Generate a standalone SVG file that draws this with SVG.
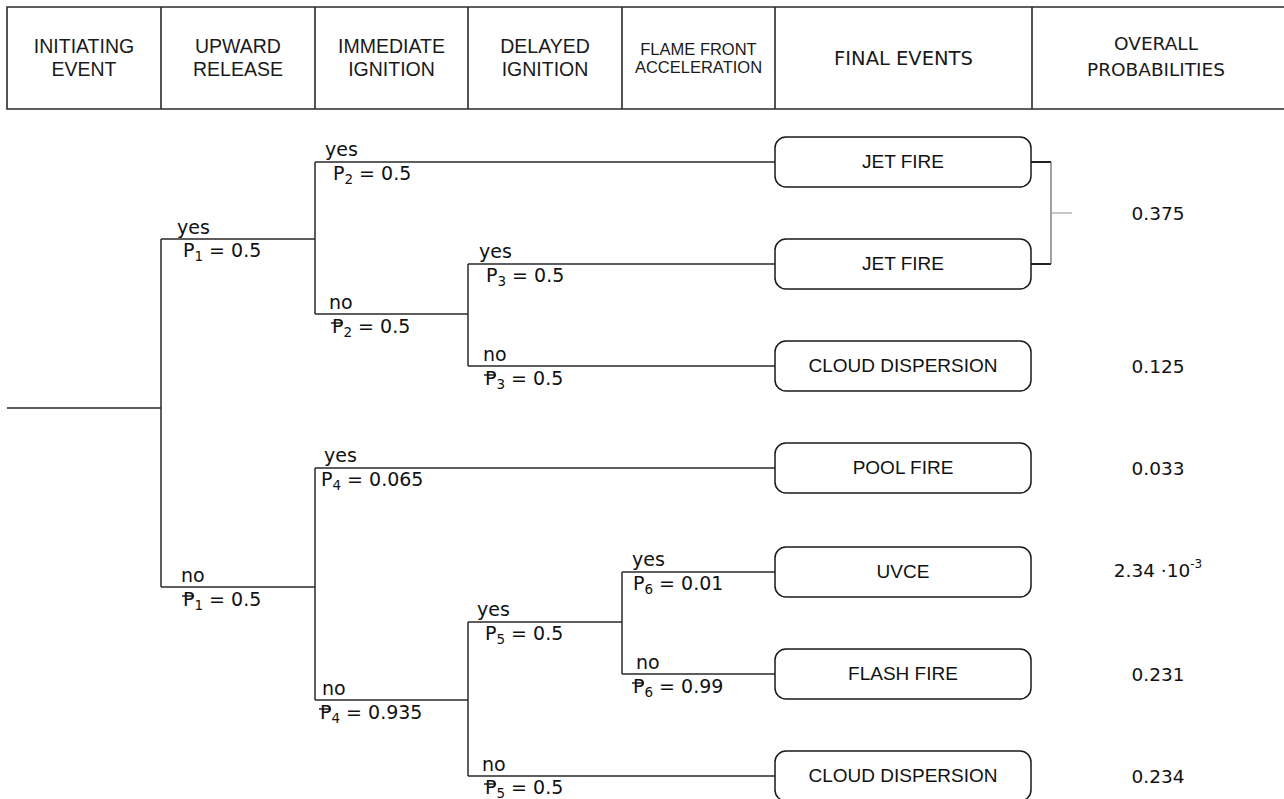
<svg xmlns="http://www.w3.org/2000/svg" width="1284" height="799" viewBox="0 0 1284 799">
<style>
.hd{font-family:"Liberation Sans",Arial,sans-serif;font-size:19.5px;fill:#1a1a1a;text-anchor:middle}
.hds{font-family:"Liberation Sans",Arial,sans-serif;font-size:16.5px;fill:#1a1a1a;text-anchor:middle}
.hv{font-family:"DejaVu Sans",Verdana,sans-serif;font-size:18.5px;fill:#1a1a1a;text-anchor:middle}
.hl{stroke:#2a2a2a;stroke-width:1.6;fill:none}
.ln{stroke:#2a2a2a;stroke-width:1.5;fill:none}
.lb{font-family:"DejaVu Sans",Verdana,sans-serif;font-size:19px;fill:#111}
.sb{font-size:13.5px}
.box{fill:#fff;stroke:#1a1a1a;stroke-width:1.5}
.bt{font-family:"Liberation Sans",Arial,sans-serif;font-size:19px;fill:#111;text-anchor:middle}
.pr{font-family:"DejaVu Sans",Verdana,sans-serif;font-size:18.5px;fill:#111;text-anchor:middle}
.bar{stroke:#111;stroke-width:1.4}
</style>
<rect width="1284" height="799" fill="#fff"/>
<g id="header">
<path class="hl" d="M1290,7 H7 V109 H1290 M161,7 V109 M315,7 V109 M468,7 V109 M622,7 V109 M775,7 V109 M1032,7 V109"/>
<text class="hd" x="84" y="53">INITIATING</text><text class="hd" x="84" y="76">EVENT</text>
<text class="hd" x="238" y="53">UPWARD</text><text class="hd" x="238" y="76">RELEASE</text>
<text class="hd" x="391.5" y="53">IMMEDIATE</text><text class="hd" x="391.5" y="76">IGNITION</text>
<text class="hd" x="545" y="53">DELAYED</text><text class="hd" x="545" y="76">IGNITION</text>
<text class="hds" x="698.5" y="55">FLAME FRONT</text><text class="hds" x="698.5" y="73">ACCELERATION</text>
<text class="hv" x="903.5" y="65" style="font-size:19.5px">FINAL EVENTS</text>
<text class="hv" x="1156" y="50">OVERALL</text><text class="hv" x="1156" y="76">PROBABILITIES</text>
</g>
<g id="connectors">
<path class="ln" d="M7,408 H161 M161,239 V587 M161,239 H315 M161,587 H315"/>
<path class="ln" d="M315,162 V314 M315,162 H775 M315,314 H468 M468,264 V366 M468,264 H775 M468,366 H775"/>
<path class="ln" d="M315,468 V700 M315,468 H775 M315,700 H468 M468,622 V776 M468,622 H622 M468,776 H775 M622,572 V674 M622,572 H775 M622,674 H775"/>
<path stroke="#222" stroke-width="1.8" fill="none" d="M1031,162 H1051 M1031,264 H1051"/>
<path stroke="#555" stroke-width="1.1" fill="none" d="M1051,162 V264"/>
<path stroke="#999" stroke-width="1.1" fill="none" d="M1051,213 H1072"/>
</g>
<g id="labels">
<text class="lb" x="177" y="234">yes</text>
<text class="lb" x="183" y="257">P<tspan class="sb" dy="4">1</tspan><tspan dy="-4"> = 0.5</tspan></text>
<text class="lb" x="181" y="582">no</text>
<text class="lb" x="183" y="606">P<tspan class="sb" dy="4">1</tspan><tspan dy="-4"> = 0.5</tspan></text>
<line class="bar" x1="182" y1="596" x2="194" y2="596"/>
<text class="lb" x="325" y="156">yes</text>
<text class="lb" x="333" y="180">P<tspan class="sb" dy="4">2</tspan><tspan dy="-4"> = 0.5</tspan></text>
<text class="lb" x="329" y="309">no</text>
<text class="lb" x="332" y="333">P<tspan class="sb" dy="4">2</tspan><tspan dy="-4"> = 0.5</tspan></text>
<line class="bar" x1="331" y1="323" x2="343" y2="323"/>
<text class="lb" x="479" y="258">yes</text>
<text class="lb" x="486" y="282">P<tspan class="sb" dy="4">3</tspan><tspan dy="-4"> = 0.5</tspan></text>
<text class="lb" x="483" y="361">no</text>
<text class="lb" x="485" y="385">P<tspan class="sb" dy="4">3</tspan><tspan dy="-4"> = 0.5</tspan></text>
<line class="bar" x1="484" y1="375" x2="496" y2="375"/>
<text class="lb" x="324" y="462">yes</text>
<text class="lb" x="321" y="486">P<tspan class="sb" dy="4">4</tspan><tspan dy="-4"> = 0.065</tspan></text>
<text class="lb" x="322" y="695">no</text>
<text class="lb" x="320" y="719">P<tspan class="sb" dy="4">4</tspan><tspan dy="-4"> = 0.935</tspan></text>
<line class="bar" x1="319" y1="709" x2="331" y2="709"/>
<text class="lb" x="477" y="616">yes</text>
<text class="lb" x="485" y="640">P<tspan class="sb" dy="4">5</tspan><tspan dy="-4"> = 0.5</tspan></text>
<text class="lb" x="482" y="771">no</text>
<text class="lb" x="485" y="794">P<tspan class="sb" dy="4">5</tspan><tspan dy="-4"> = 0.5</tspan></text>
<line class="bar" x1="484" y1="784" x2="496" y2="784"/>
<text class="lb" x="632" y="566">yes</text>
<text class="lb" x="633" y="590">P<tspan class="sb" dy="4">6</tspan><tspan dy="-4"> = 0.01</tspan></text>
<text class="lb" x="636" y="669">no</text>
<text class="lb" x="633" y="693">P<tspan class="sb" dy="4">6</tspan><tspan dy="-4"> = 0.99</tspan></text>
<line class="bar" x1="632" y1="683" x2="644" y2="683"/>
</g>
<g id="n_jet1"><rect class="box" x="775" y="137" width="256" height="50" rx="11"/><text class="bt" x="903" y="168">JET FIRE</text></g>
<g id="n_jet2"><rect class="box" x="775" y="239" width="256" height="50" rx="11"/><text class="bt" x="903" y="270">JET FIRE</text></g>
<g id="n_cloud1"><rect class="box" x="775" y="341" width="256" height="50" rx="11"/><text class="bt" x="903" y="372">CLOUD DISPERSION</text></g>
<g id="n_pool"><rect class="box" x="775" y="443" width="256" height="50" rx="11"/><text class="bt" x="903" y="474">POOL FIRE</text></g>
<g id="n_uvce"><rect class="box" x="775" y="547" width="256" height="50" rx="11"/><text class="bt" x="903" y="578">UVCE</text></g>
<g id="n_flash"><rect class="box" x="775" y="649" width="256" height="50" rx="11"/><text class="bt" x="903" y="680">FLASH FIRE</text></g>
<g id="n_cloud2"><rect class="box" x="775" y="751" width="256" height="50" rx="11"/><text class="bt" x="903" y="782">CLOUD DISPERSION</text></g>
<g id="probabilities">
<text class="pr" x="1158" y="220">0.375</text>
<text class="pr" x="1158" y="373">0.125</text>
<text class="pr" x="1158" y="475">0.033</text>
<text class="pr" x="1158" y="577">2.34 ·10<tspan font-size="12" dy="-9">-3</tspan></text>
<text class="pr" x="1158" y="681">0.231</text>
<text class="pr" x="1158" y="783">0.234</text>
</g>
</svg>
